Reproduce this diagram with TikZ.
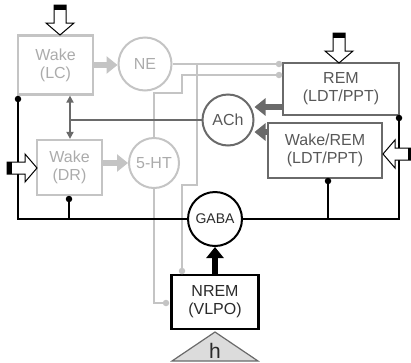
\documentclass[tikz,border=0pt]{standalone}
\usepackage{fontspec}
\setmainfont{Liberation Sans}
\usetikzlibrary{arrows.meta}
\definecolor{sleeplight}{HTML}{C4C4C4}
\definecolor{sleeplighttext}{HTML}{ABABAB}
\definecolor{sleepdark}{HTML}{6A6A6A}
\definecolor{sleepdarktext}{HTML}{585858}
\definecolor{sleepink}{HTML}{2A2A2A}
\definecolor{sleepfill}{HTML}{DCDCDC}

\tikzset{
  wakebox/.style={draw=sleeplight,line width=2.2pt,text=sleeplighttext,align=center,
    inner sep=0pt,font=\fontsize{16}{18}\selectfont},
  rembox/.style={draw=sleepdark,line width=2.2pt,text=sleepdarktext,align=center,
    inner sep=0pt,font=\fontsize{16}{18}\selectfont},
  sleepbox/.style={draw=black,line width=2.4pt,text=sleepink,align=center,
    inner sep=0pt,font=\fontsize{16}{18}\selectfont},
  transmitter/.style={circle,line width=2pt,inner sep=0pt,font=\fontsize{16}{18}\selectfont},
  monoline/.style={draw=sleeplight,line width=2pt},
  gabaline/.style={draw=black,line width=1.5pt},
  junction/.style={circle,fill=#1,inner sep=0pt,minimum size=6.5pt},
  fatarrow/.style={line width=6pt,-{Triangle[length=11pt,width=17pt]}}
}

\begin{document}
\begin{tikzpicture}[x=1pt,y=-1pt]
    \path[use as bounding box] (0,0) rectangle (411,362);

    % Monoaminergic wake groups, drawn pale.
    \node[wakebox,minimum width=75pt,minimum height=59pt] (lc) at (55.5,65) {Wake\\(LC)};
    \node[wakebox,minimum width=65pt,minimum height=55pt] (dr) at (69.5,167.5) {Wake\\(DR)};
    \node[transmitter,draw=sleeplight,text=sleeplighttext,minimum size=53pt] (ne) at (145,64) {NE};
    \node[transmitter,draw=sleeplight,text=sleeplighttext,minimum size=50pt] (5ht) at (154,163) {5-HT};

    % Cholinergic groups on the right.
    \node[rembox,minimum width=116pt,minimum height=52pt] (rem) at (341,89) {REM\\(LDT/PPT)};
    \node[rembox,minimum width=114pt,minimum height=55pt] (wr) at (325,150.5) {Wake/REM\\(LDT/PPT)};
    \node[transmitter,draw=sleepdark,text=sleepdarktext,minimum size=51pt] (ach) at (228,120) {ACh};

    % The sleep side: VLPO and its GABA output.
    \node[transmitter,draw=black,text=sleepink,minimum size=54pt,font=\fontsize{14}{16}\selectfont] (gaba) at (215,219) {GABA};
    \node[sleepbox,minimum width=87pt,minimum height=54pt] (nrem) at (215,302) {NREM\\(VLPO)};
    \draw[draw=sleepdark,fill=sleepfill,line width=1.2pt] (215,332) -- (258,361) -- (172,361) -- cycle;
    \node[anchor=base,font=\fontsize{21}{24}\selectfont,text=sleepink] (hdrive) at (215,358) {h};

    % Junction points where lines meet the boxes.
    \coordinate (lcout) at (18,99);
    \coordinate (drout) at (69,199);
    \coordinate (remout) at (399,118);
    \coordinate (wrout) at (328,181);
    \coordinate (remne) at (279,64);
    \coordinate (rem5ht) at (279,75);
    \coordinate (nremne) at (182,271);
    \coordinate (nrem5ht) at (166,303);
    \coordinate (nesplit) at (197,64);
    \coordinate (achsplit) at (70,120);

    % Pale monoamine projections.
    \draw[monoline] (ne.east) -- (remne);
    \draw[monoline] (nesplit) -- (197,185) -| (nremne);
    \draw[monoline] (5ht.north) |- (182,93) |- (rem5ht);
    \draw[monoline] (5ht.south) |- (nrem5ht);
    \foreach \p in {remne,rem5ht,nremne,nrem5ht}
      \node[junction=sleeplight] at (\p) {};

    % ACh feedback onto both wake groups.
    \draw[sleepdark,line width=1.8pt] (ach.west) -- (achsplit);
    \draw[sleepdark,line width=1.8pt,{Triangle[length=7pt,width=7pt]}-{Triangle[length=7pt,width=7pt]}]
      (lc.south -| achsplit) -- (dr.north -| achsplit);

    % GABA inhibition collected from every wake group.
    \draw[gabaline] (lcout) -- (lcout |- gaba.west) -- (gaba.west);
    \draw[gabaline] (drout) -- (drout |- gaba.west);
    \draw[gabaline] (remout) -- (remout |- gaba.east) -- (gaba.east);
    \draw[gabaline] (wrout) -- (wrout |- gaba.east);
    \foreach \p in {lcout,drout,remout,wrout}
      \node[junction=black] at (\p) {};

    % Thick transmitter release arrows.
    \draw[fatarrow,sleeplight] (lc.east) -- (lc.east -| ne.west);
    \draw[fatarrow,sleeplight] (dr.east |- 5ht.west) -- (5ht.west);
    \draw[fatarrow,sleepdark] ([yshift=-18pt]rem.west) -- ([yshift=-18pt]rem.west -| ach.east);
    \draw[fatarrow,sleepdark] ([yshift=18.5pt]wr.west) -- ([yshift=18.5pt]wr.west -| ach.east);
    \draw[fatarrow,black] (nrem.north) -- (gaba.south);

    % Hollow input arrows with black tails.
    \foreach \x/\y/\r in {60/35/0,339/63/0,37/168/90,383/154/-90}{
      \begin{scope}[shift={(\x,\y)},rotate=\r]
        \draw[fill=white,line width=1pt] (0,0) -- (-14,-12) -- (-6,-12) -- (-6,-30)
          -- (6,-30) -- (6,-12) -- (14,-12) -- cycle;
        \fill[black] (-6,-30) rectangle (6,-25);
      \end{scope}
    }
  \end{tikzpicture}
\end{document}
